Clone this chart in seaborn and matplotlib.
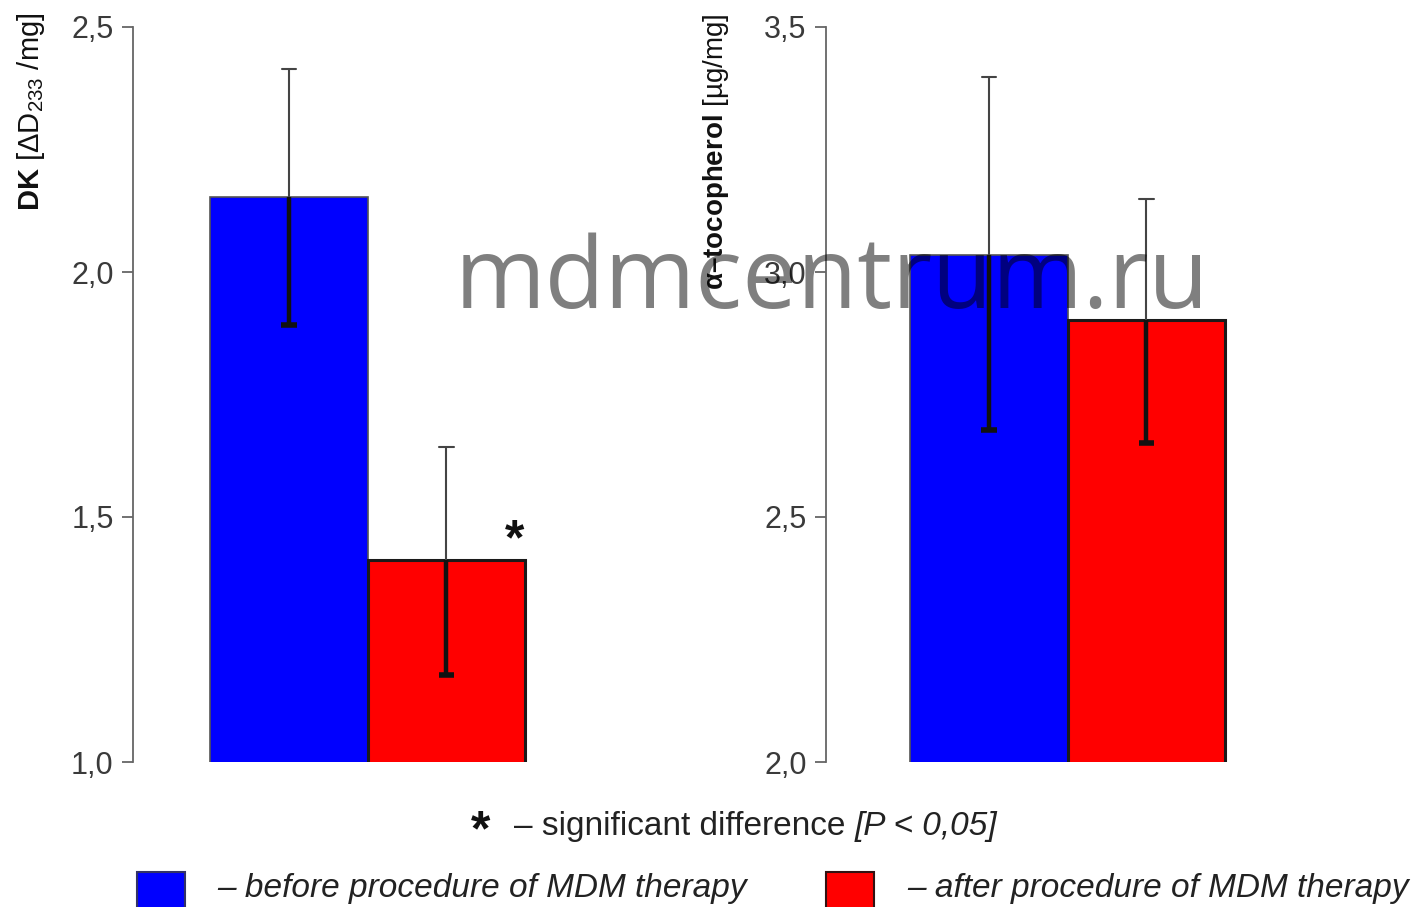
import matplotlib
matplotlib.use("Agg")
import matplotlib.pyplot as plt
import seaborn as sns
import pandas as pd
from matplotlib.patches import Rectangle

# ---- data ----
stages = ["before", "after"]
dk_values = [2.153, 1.412]
dk_err_up = [0.261, 0.231]
dk_err_lo = [0.261, 0.234]
toc_values = [3.035, 2.902]
toc_err_up = [0.363, 0.247]
toc_err_lo = [0.357, 0.251]
dk_ticks = [1.0, 1.5, 2.0, 2.5]
toc_ticks = [2.0, 2.5, 3.0, 3.5]
dk_ticklabels = ["1,0", "1,5", "2,0", "2,5"]
toc_ticklabels = ["2,0", "2,5", "3,0", "3,5"]
colors = {"before": "#0000ff", "after": "#ff0000"}

sns.set_theme(style="white")
plt.rcParams["font.family"] = ["Liberation Sans", "DejaVu Sans"]
plt.rcParams["mathtext.fontset"] = "custom"
plt.rcParams["mathtext.rm"] = "Liberation Sans"
plt.rcParams["mathtext.bf"] = "Liberation Sans:bold"
plt.rcParams["mathtext.it"] = "Liberation Sans:italic"

W, H = 1416, 907
fig = plt.figure(figsize=(W / 100, H / 100), dpi=100)

def fx(px):
    return px / W

def fy(py):
    return 1 - py / H

ax1 = fig.add_axes([fx(133), fy(762), fx(600 - 133), (762 - 27) / H])
ax2 = fig.add_axes([fx(826), fy(762), fx(1300 - 826), (762 - 27) / H])

def draw(ax, values, up, lo, ticks, ticklabels, ylim, xlim):
    df = pd.DataFrame({"stage": stages, "value": values})
    sns.barplot(data=df, x="stage", y="value", hue="stage", palette=colors,
                width=1.0, ax=ax, legend=False, errorbar=None, saturation=1)
    for i, p in enumerate(ax.patches):
        if i == 0:
            p.set_edgecolor("#555555"); p.set_linewidth(1.2)
        else:
            p.set_edgecolor("#1a1a1a"); p.set_linewidth(2.2)
    for i, (v, u, l) in enumerate(zip(values, up, lo)):
        # upper thin part
        ax.vlines(i, v, v + u, color="#444444", lw=1.5, zorder=5)
        ax.plot([i - 0.045, i + 0.045], [v + u, v + u], color="#444444", lw=1.5, zorder=5)
        # lower thick part
        ax.vlines(i, v - l, v, color="#111111", lw=3.2, zorder=5)
        ax.plot([i - 0.05, i + 0.05], [v - l, v - l], color="#111111", lw=4, zorder=5,
                solid_capstyle="butt")
    ax.set_ylim(*ylim)
    ax.set_xlim(*xlim)
    ax.set_yticks(ticks)
    ax.set_yticklabels(ticklabels)
    ax.set_xticks([])
    ax.set_xlabel("")
    ax.set_ylabel("")
    for s in ["top", "right", "bottom"]:
        ax.spines[s].set_visible(False)
    ax.spines["left"].set_color("#666666")
    ax.spines["left"].set_linewidth(1.3)
    ax.tick_params(axis="y", direction="out", length=8, width=1.3, color="#666666",
                   labelsize=22, labelcolor="#3a3a3a", pad=6, left=True)
    ax.set_facecolor("none")

draw(ax1, dk_values, dk_err_up, dk_err_lo, dk_ticks, dk_ticklabels, (1.0, 2.5),
     (-0.99, 1.975))
draw(ax2, toc_values, toc_err_up, toc_err_lo, toc_ticks, toc_ticklabels, (2.0, 3.5),
     (-1.035, 1.975))

ax1.text(1.43, 1.45, "*", fontsize=36, fontweight="bold", color="#111111",
         ha="center", va="center")

# y labels
fig.text(fx(31), fy(13), r"$\mathbf{DK}$ [ΔD$_{233}$ /mg]", rotation=90,
         ha="center", va="top", fontsize=21, color="#111111")
fig.text(fx(716), fy(13), r"$\mathbf{α–tocopherol}$ [µg/mg]", rotation=90,
         ha="center", va="top", fontsize=20, color="#111111")

# footnote
fig.canvas.draw()
r = fig.canvas.get_renderer()
fig.text(fx(481), fy(832), "*", fontsize=36, fontweight="bold", ha="center",
         va="center", color="#111111")
t1 = fig.text(fx(514), fy(826), "– significant difference ", fontsize=24,
              ha="left", va="center", color="#222222")
bb = t1.get_window_extent(r)
fig.text(bb.x1 / W, fy(826), "[P < 0,05]", fontsize=24, style="italic",
         ha="left", va="center", color="#222222")

# legend
fig.add_artist(Rectangle((fx(137), fy(912)), fx(48), 40 / H, transform=fig.transFigure,
                         facecolor=colors["before"], edgecolor="#333366", lw=1.5))
fig.add_artist(Rectangle((fx(826), fy(912)), fx(48), 40 / H, transform=fig.transFigure,
                         facecolor=colors["after"], edgecolor="#331111", lw=1.5))
fig.text(fx(217), fy(889), "– before procedure of MDM therapy", fontsize=24,
         style="italic", ha="left", va="center", color="#222222")
fig.text(fx(907), fy(889), "– after procedure of MDM therapy", fontsize=24,
         style="italic", ha="left", va="center", color="#222222")

# watermark
fig.text(fx(832), fy(282), "mdmcentrum.ru", fontsize=70.5, family="Open Sans",
         color="black", alpha=0.5, ha="center", va="center", zorder=10)

fig.savefig("out.png", dpi=100)
